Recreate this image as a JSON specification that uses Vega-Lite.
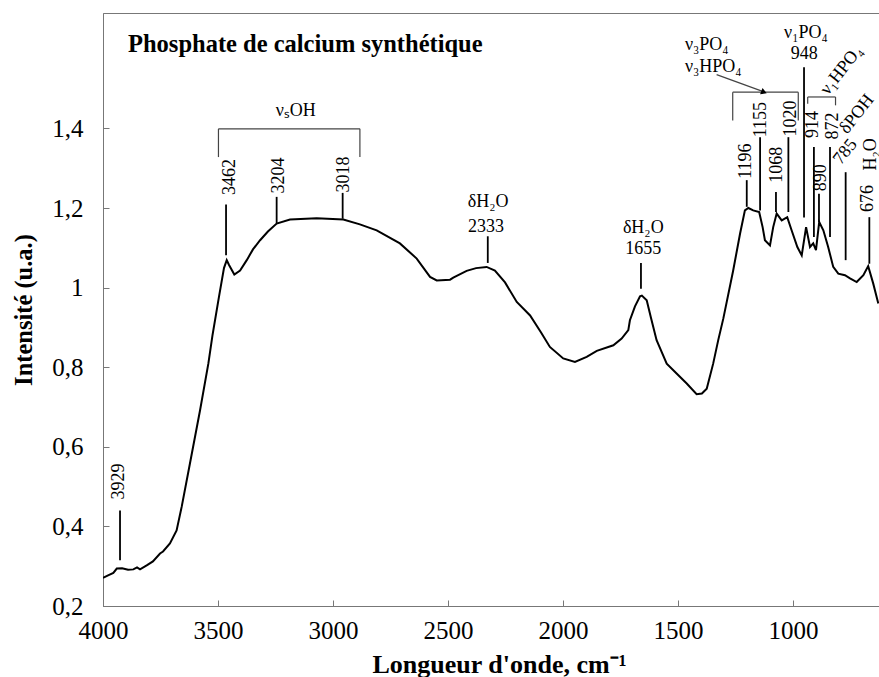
{
  "$schema": "https://vega.github.io/schema/vega-lite/v6.json",
  "width": 776,
  "height": 593,
  "autosize": {"type": "none"},
  "padding": {"left": 103, "top": 13, "right": 0, "bottom": 71},
  "background": "white",
  "config": {"font": "Liberation Serif", "view": {"stroke": "#777", "strokeWidth": 1}},
  "title": {"text": "Phosphate de calcium synthétique", "anchor": "start", "frame": "group", "orient": "top", "offset": 0, "dx": 25, "dy": 63, "baseline": "alphabetic", "font": "Liberation Serif", "fontSize": 24.5, "fontWeight": "bold", "color": "black"},
  "datasets": {
    "spectrum": [
      {"wn":4000,"int":0.271},{"wn":3978,"int":0.277},{"wn":3955,"int":0.283},{"wn":3940,"int":0.294},{"wn":3917,"int":0.295},
      {"wn":3891,"int":0.291},{"wn":3868,"int":0.292},{"wn":3852,"int":0.297},{"wn":3839,"int":0.292},{"wn":3810,"int":0.302},
      {"wn":3783,"int":0.312},{"wn":3752,"int":0.332},{"wn":3739,"int":0.337},{"wn":3709,"int":0.357},{"wn":3680,"int":0.390},
      {"wn":3658,"int":0.449},{"wn":3622,"int":0.558},{"wn":3578,"int":0.692},{"wn":3542,"int":0.809},{"wn":3524,"int":0.880},
      {"wn":3496,"int":0.976},{"wn":3474,"int":1.049},{"wn":3462,"int":1.069},{"wn":3452,"int":1.057},{"wn":3429,"int":1.033},
      {"wn":3404,"int":1.043},{"wn":3375,"int":1.069},{"wn":3348,"int":1.096},{"wn":3317,"int":1.119},{"wn":3283,"int":1.141},
      {"wn":3245,"int":1.161},{"wn":3187,"int":1.171},{"wn":3071,"int":1.174},{"wn":2955,"int":1.171},{"wn":2883,"int":1.159},
      {"wn":2810,"int":1.144},{"wn":2709,"int":1.111},{"wn":2636,"int":1.073},{"wn":2578,"int":1.027},{"wn":2549,"int":1.018},
      {"wn":2491,"int":1.020},{"wn":2477,"int":1.025},{"wn":2419,"int":1.042},{"wn":2378,"int":1.049},{"wn":2332,"int":1.052},
      {"wn":2296,"int":1.043},{"wn":2252,"int":1.013},{"wn":2201,"int":0.964},{"wn":2143,"int":0.930},{"wn":2096,"int":0.888},
      {"wn":2057,"int":0.851},{"wn":1999,"int":0.822},{"wn":1948,"int":0.813},{"wn":1897,"int":0.826},{"wn":1853,"int":0.841},
      {"wn":1781,"int":0.855},{"wn":1745,"int":0.872},{"wn":1716,"int":0.893},{"wn":1709,"int":0.918},{"wn":1687,"int":0.953},
      {"wn":1665,"int":0.978},{"wn":1657,"int":0.980},{"wn":1636,"int":0.968},{"wn":1617,"int":0.923},{"wn":1593,"int":0.868},
      {"wn":1549,"int":0.809},{"wn":1506,"int":0.784},{"wn":1462,"int":0.759},{"wn":1419,"int":0.732},{"wn":1396,"int":0.734},
      {"wn":1375,"int":0.746},{"wn":1347,"int":0.809},{"wn":1325,"int":0.868},{"wn":1303,"int":0.922},{"wn":1260,"int":1.043},
      {"wn":1230,"int":1.136},{"wn":1209,"int":1.194},{"wn":1194,"int":1.200},{"wn":1173,"int":1.194},{"wn":1147,"int":1.190},
      {"wn":1132,"int":1.152},{"wn":1122,"int":1.119},{"wn":1100,"int":1.106},{"wn":1086,"int":1.152},{"wn":1071,"int":1.186},
      {"wn":1049,"int":1.169},{"wn":1025,"int":1.177},{"wn":1006,"int":1.144},{"wn":981,"int":1.102},{"wn":962,"int":1.081},
      {"wn":943,"int":1.152},{"wn":926,"int":1.102},{"wn":912,"int":1.111},{"wn":900,"int":1.094},{"wn":886,"int":1.165},
      {"wn":868,"int":1.144},{"wn":847,"int":1.102},{"wn":825,"int":1.052},{"wn":803,"int":1.035},{"wn":774,"int":1.031},
      {"wn":752,"int":1.023},{"wn":723,"int":1.014},{"wn":694,"int":1.031},{"wn":673,"int":1.054},{"wn":651,"int":1.010},
      {"wn":629,"int":0.960}
    ],
    "segments": [
      {"kind":"peak","wn":3926,"wn2":3926,"int":0.440,"int2":0.315},
      {"kind":"peak","wn":3465,"wn2":3465,"int":1.209,"int2":1.081},
      {"kind":"peak","wn":3245,"wn2":3245,"int":1.228,"int2":1.162},
      {"kind":"peak","wn":2958,"wn2":2958,"int":1.238,"int2":1.173},
      {"kind":"peak","wn":2327,"wn2":2327,"int":1.129,"int2":1.062},
      {"kind":"peak","wn":1661,"wn2":1661,"int":1.062,"int2":0.997},
      {"kind":"peak","wn":1201,"wn2":1201,"int":1.270,"int2":1.203},
      {"kind":"peak","wn":1143,"wn2":1143,"int":1.378,"int2":1.194},
      {"kind":"peak","wn":1074,"wn2":1074,"int":1.240,"int2":1.190},
      {"kind":"peak","wn":1020,"wn2":1020,"int":1.378,"int2":1.190},
      {"kind":"peak","wn":952,"wn2":952,"int":1.554,"int2":1.176},
      {"kind":"peak","wn":909,"wn2":909,"int":1.353,"int2":1.127},
      {"kind":"peak","wn":887,"wn2":887,"int":1.236,"int2":1.165},
      {"kind":"peak","wn":839,"wn2":839,"int":1.353,"int2":1.127},
      {"kind":"peak","wn":771,"wn2":771,"int":1.290,"int2":1.069},
      {"kind":"peak","wn":668,"wn2":668,"int":1.177,"int2":1.060},
      {"kind":"bracket","wn":3498,"wn2":2883,"int":1.399,"int2":1.399},
      {"kind":"bracket","wn":3498,"wn2":3498,"int":1.399,"int2":1.328},
      {"kind":"bracket","wn":2883,"wn2":2883,"int":1.399,"int2":1.328},
      {"kind":"bracket","wn":1262,"wn2":977,"int":1.491,"int2":1.491},
      {"kind":"bracket","wn":1262,"wn2":1262,"int":1.491,"int2":1.420},
      {"kind":"bracket","wn":977,"wn2":977,"int":1.491,"int2":1.420},
      {"kind":"bracket","wn":936,"wn2":815,"int":1.479,"int2":1.479},
      {"kind":"bracket","wn":936,"wn2":936,"int":1.479,"int2":1.462},
      {"kind":"bracket","wn":815,"wn2":815,"int":1.479,"int2":1.458},
      {"kind":"arrow","wn":1332,"wn2":1132,"int":1.535,"int2":1.493}
    ],
    "labels": [
      {"kind":"vertical","wn":3930,"int":0.513,"text":"3929"},
      {"kind":"vertical","wn":3448,"int":1.278,"text":"3462"},
      {"kind":"vertical","wn":3235,"int":1.282,"text":"3204"},
      {"kind":"vertical","wn":2952,"int":1.284,"text":"3018"},
      {"kind":"vertical","wn":1205,"int":1.318,"text":"1196"},
      {"kind":"vertical","wn":1140,"int":1.422,"text":"1155"},
      {"kind":"vertical","wn":1071,"int":1.309,"text":"1068"},
      {"kind":"vertical","wn":1010,"int":1.425,"text":"1020"},
      {"kind":"vertical","wn":912,"int":1.410,"text":"914"},
      {"kind":"vertical","wn":879,"int":1.276,"text":"890"},
      {"kind":"vertical","wn":825,"int":1.406,"text":"872"},
      {"kind":"vertical","wn":673,"int":1.224,"text":"676"},
      {"kind":"vertical","wn":662,"int":1.335,"text":"H₂O"},
      {"kind":"horizontal","wn":3162,"int":1.445,"text":"νₛOH"},
      {"kind":"horizontal","wn":2325,"int":1.214,"text":"δH₂O"},
      {"kind":"horizontal","wn":2335,"int":1.152,"text":"2333"},
      {"kind":"horizontal","wn":1651,"int":1.151,"text":"δH₂O"},
      {"kind":"horizontal","wn":1651,"int":1.096,"text":"1655"},
      {"kind":"horizontal","wn":944,"int":1.639,"text":"ν₁PO₄"},
      {"kind":"horizontal","wn":951,"int":1.586,"text":"948"},
      {"kind":"left","wn":1470,"int":1.609,"text":"ν₃PO₄"},
      {"kind":"left","wn":1470,"int":1.554,"text":"ν₃HPO₄"},
      {"kind":"slanted","wn":789,"int":1.546,"text":"ν₁HPO₄"},
      {"kind":"slanted","wn":722,"int":1.436,"text":"δPOH"},
      {"kind":"slanted","wn":772,"int":1.341,"text":"785"}
    ],
    "arrowhead": [{"wn":1126,"int":1.491}]
  },
  "encoding": {
    "x": {"field": "wn", "type": "quantitative",
      "scale": {"domain": [626, 4000], "reverse": true, "nice": false, "zero": false},
      "axis": {"title": "Longueur d'onde, cm⁻¹", "values": [4000, 3500, 3000, 2500, 2000, 1500, 1000], "format": "d",
        "grid": false, "domainColor": "#777", "tickColor": "#777", "tickSize": -6, "labelPadding": 18, "labelFlush": false, "labelOverlap": false,
        "labelFont": "Liberation Serif", "labelFontSize": 25, "labelColor": "black",
        "titleFont": "Liberation Serif", "titleFontSize": 26, "titleFontWeight": "bold", "titleColor": "black", "titlePadding": 8, "titleX": 396}},
    "y": {"field": "int", "type": "quantitative",
      "scale": {"domain": [0.2, 1.69], "nice": false, "zero": false},
      "axis": {"title": "Intensité (u.a.)", "values": [0.2, 0.4, 0.6, 0.8, 1, 1.2, 1.4],
        "labelExpr": "replace(format(datum.value, '.1~f'), '.', ',')",
        "grid": false, "domainColor": "#777", "tickColor": "#777", "tickSize": -6, "labelPadding": 26, "labelFlush": false, "labelOverlap": false,
        "labelFont": "Liberation Serif", "labelFontSize": 25, "labelColor": "black",
        "titleFont": "Liberation Serif", "titleFontSize": 24.5, "titleFontWeight": "bold", "titleColor": "black", "titlePadding": 15}}
  },
  "layer": [
    {"data": {"name": "spectrum"}, "mark": {"type": "line", "color": "black", "strokeWidth": 2, "clip": true}},
    {"data": {"name": "segments"}, "transform": [{"filter": "datum.kind === 'peak'"}],
      "mark": {"type": "rule", "color": "black", "strokeWidth": 1.8},
      "encoding": {"x2": {"field": "wn2"}, "y2": {"field": "int2"}}},
    {"data": {"name": "segments"}, "transform": [{"filter": "datum.kind !== 'peak'"}],
      "mark": {"type": "rule", "color": "#444", "strokeWidth": 1.2},
      "encoding": {"x2": {"field": "wn2"}, "y2": {"field": "int2"}}},
    {"data": {"name": "arrowhead"}, "mark": {"type": "point", "shape": "triangle-right", "angle": 21, "size": 45, "filled": true, "color": "black", "opacity": 1}},
    {"data": {"name": "labels"}, "transform": [{"filter": "datum.kind === 'vertical'"}],
      "mark": {"type": "text", "angle": 270, "align": "center", "baseline": "middle", "font": "Liberation Serif", "fontSize": 18, "color": "black", "clip": true},
      "encoding": {"text": {"field": "text"}}},
    {"data": {"name": "labels"}, "transform": [{"filter": "datum.kind === 'horizontal'"}],
      "mark": {"type": "text", "align": "center", "baseline": "middle", "font": "Liberation Serif", "fontSize": 18, "color": "black"},
      "encoding": {"text": {"field": "text"}}},
    {"data": {"name": "labels"}, "transform": [{"filter": "datum.kind === 'left'"}],
      "mark": {"type": "text", "align": "left", "baseline": "middle", "font": "Liberation Serif", "fontSize": 18, "color": "black"},
      "encoding": {"text": {"field": "text"}}},
    {"data": {"name": "labels"}, "transform": [{"filter": "datum.kind === 'slanted'"}],
      "mark": {"type": "text", "angle": 308, "align": "center", "baseline": "middle", "font": "Liberation Serif", "fontSize": 18, "color": "black", "clip": true},
      "encoding": {"text": {"field": "text"}}}
  ]
}
